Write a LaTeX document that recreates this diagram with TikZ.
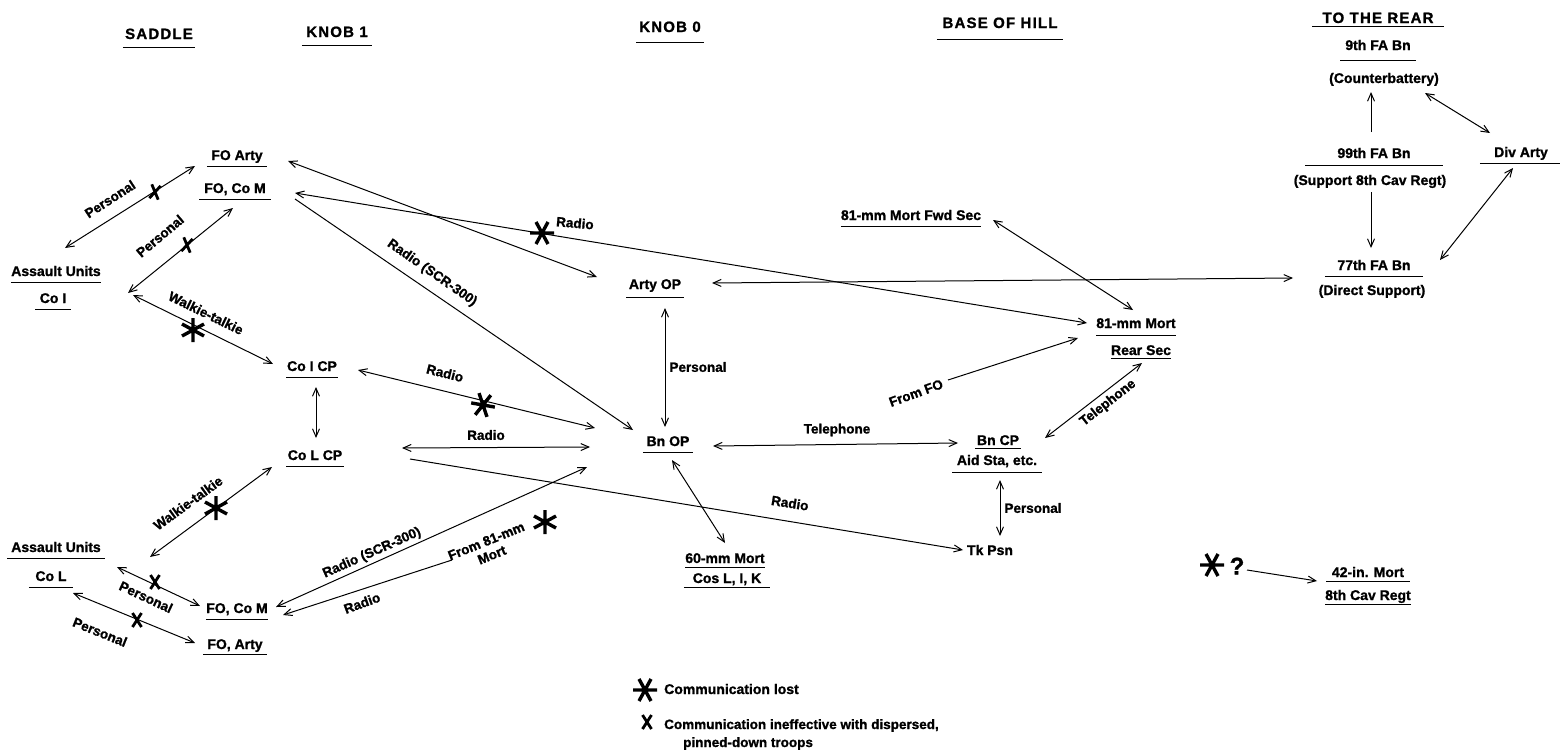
\documentclass[tikz,border=0pt]{standalone}
\usepackage{fontspec}
\setmainfont[FakeBold=1.2]{Liberation Sans}
\usetikzlibrary{arrows.meta}
\begin{document}
\begin{tikzpicture}[x=1pt,y=-1pt,
  every node/.style={font=\fontsize{14}{16}\selectfont\bfseries},
  conn/.style={line width=1pt, >={Straight Barb[length=8pt,width=7pt]}},
  dbl/.style={conn,<->},
  one/.style={conn,->},
  ulline/.style={draw, -, line width=1.1pt},
  nd/.style={anchor=base, inner xsep=0pt, inner ysep=3pt, text depth=3pt, minimum width=#1,
     append after command={\pgfextra{\let\ulnode\tikzlastnode}(\ulnode.south west) edge[ulline] (\ulnode.south east)}},
  pl/.style={anchor=base, inner sep=1pt},
  hdr/.style={nd=#1, font=\fontsize{15}{17}\selectfont\bfseries\addfontfeature{LetterSpace=8}, text depth=5pt},
  lbl/.style={font=\fontsize{13.5}{15}\selectfont\bfseries, inner sep=1pt},
  lost/.pic={\draw[line width=3.4pt] (-12,0)--(12,0) (-6,-11)--(6,11) (-6,11)--(6,-11);},
  ineff/.pic={\draw[line width=2.8pt] (-4.5,-7)--(4.5,7) (-4.5,7)--(4.5,-7);}
]
\useasboundingbox[fill=white] (0,0) rectangle (1560,755);

% headers
\node[hdr=72] (saddle) at (159,39) {SADDLE};
\node[hdr=70] (knob1) at (337,37) {KNOB 1};
\node[hdr=67, text depth=7pt] (knob0) at (670,32) {KNOB 0};
\node[hdr=126, text depth=8pt] (basehill) at (1000,28) {BASE OF HILL};
\node[hdr=131, text depth=0pt] (rear) at (1378,23) {TO THE REAR};

% nodes
\node[nd=60] (foarty) at (237,160) {FO Arty};
\node[nd=71] (focom1) at (235,193) {FO, Co M};
\node[nd=90] (asI) at (56,276) {Assault Units};
\node[nd=35] (coI) at (53,303) {Co I};
\node[nd=51] (coicp) at (312,371) {Co I CP};
\node[nd=57] (colcp) at (315,460) {Co L CP};
\node[nd=97] (asL) at (56,552) {Assault Units};
\node[nd=44] (coL) at (51,581) {Co L};
\node[nd=62] (focom2) at (237,613) {FO, Co M};
\node[nd=63, text depth=2pt] (foarty2) at (235,649) {FO, Arty};
\node[nd=57, text depth=5pt] (artyop) at (655,289) {Arty OP};
\node[nd=50] (bnop) at (668,446) {Bn OP};
\node[nd=76, text depth=1pt] (mort60) at (725,563) {60-mm Mort};
\node[nd=86, text depth=1pt] (cos) at (727,583) {Cos L, I, K};
\node[nd=139] (fwd) at (911,220) {81-mm Mort Fwd Sec};
\node[nd=68, text depth=4pt] (mort81) at (1136,328) {81-mm Mort};
\node[nd=58, text depth=0pt] (rearsec) at (1141,355) {Rear Sec};
\node[nd=46, text depth=0pt] (bncp) at (998,445) {Bn CP};
\node[nd=89, text depth=4pt] (aid) at (997,465) {Aid Sta, etc.};
\node[pl] (tkpsn) at (990,555) {Tk Psn};
\node[nd=75, text depth=7pt] (fa9) at (1378,50) {9th FA Bn};
\node[pl] (counter) at (1384,83) {(Counterbattery)};
\node[nd=137, text depth=4pt] (fa99) at (1374,158) {99th FA Bn};
\node[pl] (supp) at (1370,185) {(Support 8th Cav Regt)};
\node[nd=82, text depth=3pt] (divarty) at (1521,157) {Div Arty};
\node[nd=98, text depth=3pt] (fa77) at (1374,270) {77th FA Bn};
\node[pl] (direct) at (1372,295) {(Direct Support)};
\node[nd=83, text depth=1pt] (mort42) at (1368,577) {42-in. Mort};
\node[nd=83, text depth=1pt] (cav8) at (1368,600) {8th Cav Regt};

% labels
\node[lbl, rotate=33] (lp1) at (110,199) {Personal};
\node[lbl, rotate=40] (lp2) at (160,236) {Personal};
\node[lbl, rotate=-26] (lwt1) at (206,313) {Walkie-talkie};
\node[lbl, rotate=-14] (lr1) at (445,373) {Radio};
\node[lbl] (lr2) at (486,435) {Radio};
\node[lbl, rotate=-9] (lr3) at (790,503) {Radio};
\node[lbl, rotate=36] (lwt2) at (188,503) {Walkie-talkie};
\node[lbl, rotate=-25] (lp3) at (146,597) {Personal};
\node[lbl, rotate=-22] (lp4) at (100,632) {Personal};
\node[lbl, rotate=24] (lscr2) at (372,553) {Radio (SCR-300)};
\node[lbl, rotate=20] (lr4) at (362,603) {Radio};
\node[lbl, rotate=22, align=center] (from81) at (489,548) {From 81-mm\\Mort};
\node[lbl, rotate=-35] (lscr1) at (432,273) {Radio (SCR-300)};
\node[lbl, rotate=-5] (lr5) at (575,223) {Radio};
\node[lbl] (lp5) at (698,367) {Personal};
\node[lbl] (ltel1) at (837,430) {Telephone};
\node[lbl, rotate=20] (fromfo) at (916,393) {From FO};
\node[lbl, rotate=38] (ltel2) at (1108,403) {Telephone};
\node[lbl] (lp6) at (1033,508) {Personal};
\node[font=\fontsize{24}{26}\selectfont\bfseries, inner sep=0pt] (q) at (1237,566) {?};

% connectors
\draw[dbl] ([shift={(9,-28)}]asI.base) -- ([shift={(-42,6)}]foarty.base);
\draw[dbl] ([shift={(75,-10)}]coI.base) -- ([shift={(-2,15)}]focom1.base);
\draw[dbl] ([shift={(80,-8)}]coI.base) -- ([shift={(-39,-7)}]coicp.base);
\draw[dbl] ([shift={(4,16)}]coicp.base) -- ([shift={(1,-22)}]colcp.base);
\draw[dbl] ([shift={(46,-1)}]coicp.base) -- ([shift={(-73,-18)}]bnop.base);
\draw[dbl] ([shift={(87,-12)}]colcp.base) -- ([shift={(-78,1)}]bnop.base);
\draw[one] ([shift={(95,-1)}]colcp.base) -- ([shift={(-27,-5)}]tkpsn.base);
\draw[dbl] ([shift={(94,5)}]asL.base) -- ([shift={(-43,7)}]colcp.base);
\draw[dbl] ([shift={(66,-14)}]coL.base) -- ([shift={(-37,-7)}]focom2.base);
\draw[dbl] ([shift={(22,12)}]coL.base) -- ([shift={(-40,-6)}]foarty2.base);
\draw[dbl] ([shift={(39,-6)}]focom2.base) -- ([shift={(-81,21)}]bnop.base);
\draw[one] ([shift={(-37,12)}]from81.center) -- ([shift={(46,2)}]focom2.base);
\draw[dbl] ([shift={(51,1)}]foarty.base) -- ([shift={(-58,-12)}]artyop.base);
\draw[dbl] ([shift={(60,0)}]focom1.base) -- ([shift={(-49,-5)}]mort81.base);
\draw[one] ([shift={(60,6)}]focom1.base) -- ([shift={(-35,-16)}]bnop.base);
\draw[dbl] ([shift={(10,19)}]artyop.base) -- ([shift={(-3,-19)}]bnop.base);
\draw[dbl] ([shift={(57,-6)}]artyop.base) -- ([shift={(-81,8)}]fa77.base);
\draw[dbl] ([shift={(82,0)}]fwd.base) -- ([shift={(-3,-18)}]mort81.base);
\draw[one] ([shift={(32,-13)}]fromfo.center) -- ([shift={(-58,10)}]mort81.base);
\draw[dbl] ([shift={(45,0)}]bnop.base) -- ([shift={(-40,-2)}]bncp.base);
\draw[dbl] ([shift={(47,-7)}]bncp.base) -- ([shift={(1,8)}]rearsec.base);
\draw[dbl] ([shift={(3,15)}]aid.base) -- ([shift={(10,-19)}]tkpsn.base);
\draw[dbl] ([shift={(4,14)}]bnop.base) -- ([shift={(0,-20)}]mort60.base);
\draw[one] ([shift={(-3,-26)}]fa99.base) -- ([shift={(-13,9)}]counter.base);
\draw[dbl] ([shift={(41,10)}]counter.base) -- ([shift={(-31,-24)}]divarty.base);
\draw[one] ([shift={(1,7)}]supp.base) -- ([shift={(-3,-22)}]fa77.base);
\draw[dbl] ([shift={(-8,11)}]divarty.base) -- ([shift={(66,-10)}]fa77.base);
\draw[one] ([shift={(10,4)}]q.center) -- ([shift={(-51,4)}]mort42.base);

% marks
\pic[rotate=90] at (193,330) {lost};
\pic[rotate=-10] at (483,405) {lost};
\pic at (542,233) {lost};
\pic[rotate=90] at (216,508) {lost};
\pic[rotate=90] at (545,522) {lost};
\pic at (1212,565) {lost};
\pic[rotate=-10] at (155,192) {ineff};
\pic[rotate=-10] at (187,245) {ineff};
\pic at (155,582) {ineff};
\pic at (137,620) {ineff};

% legend
\pic at (645,690) {lost};
\node[pl, anchor=base west] (leg1) at (663,694) {Communication lost};
\pic at (647,722) {ineff};
\node[lbl, anchor=base west] (leg2) at (663,729) {Communication ineffective with dispersed,};
\node[lbl, anchor=base west] (leg3) at (682,747) {pinned-down troops};
\end{tikzpicture}
\end{document}
